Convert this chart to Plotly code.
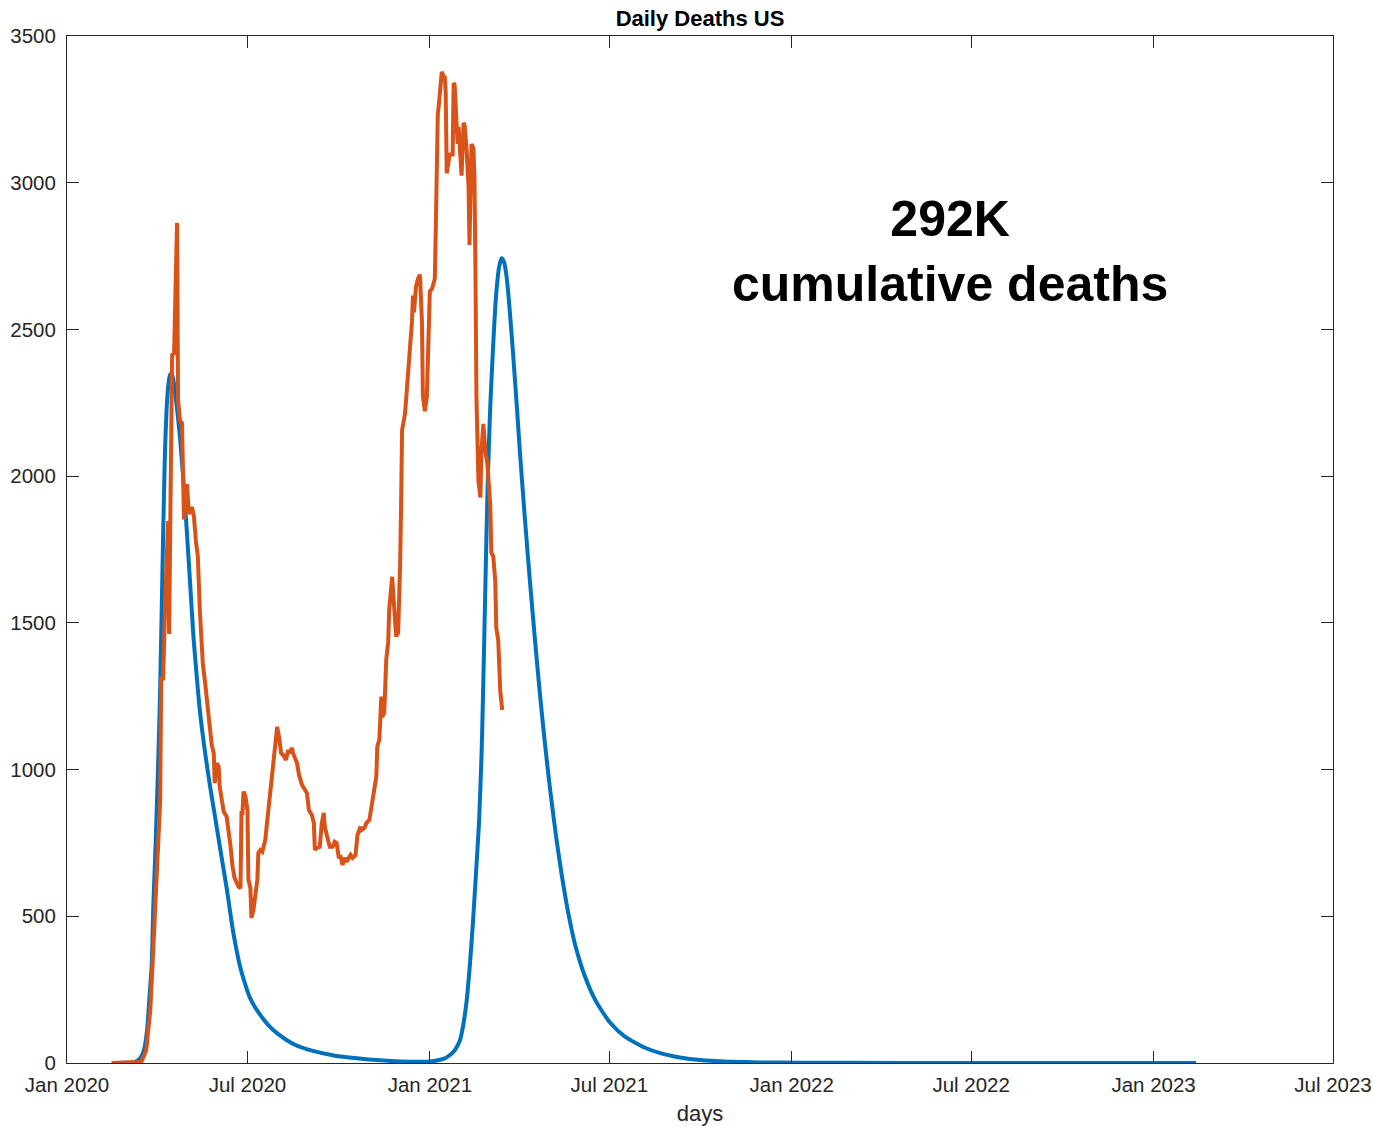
import pandas as pd
import plotly.graph_objects as go

START = "2020-01-01"

# Model curve (blue): days since 2020-01-01 (fractional) and daily deaths
model_days = [45.4, 58.5, 68.6, 73.6, 77.7, 80.7, 83.7, 85.4, 87.1, 88.8, 90.5, 92.1, 93.8,
              95.5, 97.1, 98.8, 100.5, 102.2, 103.9, 105.4, 106.9, 108.9, 111.5, 114.0,
              117.3, 120.7, 124.1, 127.4, 130.8, 134.2, 139.2, 144.2, 149.3, 154.3, 161.1,
              167.7, 174.5, 179.6, 184.6, 189.7, 194.7, 202.8, 211.8, 229.9, 247.1, 270.3,
              292.5, 315.7, 337.9, 356.1, 366.2, 376.3, 382.3, 386.3, 391.4, 396.4, 399.7,
              403.2, 406.5, 409.5, 412.6, 415.6, 418.3, 419.6, 421.1, 422.6, 424.1, 425.6,
              427.1, 428.6, 430.1, 431.7, 433.7, 435.7, 438.3, 440.8, 442.8, 444.8, 446.8,
              449.9, 453.9, 456.9, 462.0, 467.0, 472.1, 477.1, 482.2, 487.2, 493.2, 499.3,
              505.4, 512.4, 522.5, 533.6, 547.7, 562.8, 583.0, 599.2, 618.3, 638.5, 668.8,
              699.0, 739.4, 840.2, 941.1, 1138.8]
model_deaths = [0, 0.5, 4, 15, 45, 110, 250, 330, 540, 690, 860, 1040, 1250, 1540, 1820,
                2080, 2230, 2310, 2345, 2350, 2335, 2290, 2215, 2130, 1990, 1820, 1640, 1460,
                1320, 1195, 1060, 945, 840, 735, 595, 445, 330, 270, 222, 190, 165, 130, 102,
                62, 42, 25, 16, 9, 5, 4, 5, 11, 18, 27, 45, 78, 130, 215, 340, 480, 650, 820,
                1067, 1250, 1480, 1720, 1940, 2110, 2250, 2360, 2460, 2560, 2650, 2710, 2743,
                2730, 2695, 2635, 2555, 2420, 2230, 2080, 1850, 1640, 1440, 1255, 1085, 935,
                775, 635, 515, 405, 295, 210, 138, 90, 52, 33, 19, 10, 4.5, 2, 1, 0.3, 0.1, 0]

# Reported data (orange)
actual_days = [45, 60, 75, 80, 84, 87, 89, 94, 95, 97, 99, 101, 102, 103, 105, 106, 108,
               110, 111, 112, 114, 116, 117, 118, 121, 122, 123, 126, 128, 130, 132, 134,
               137, 139, 141, 143, 146, 148, 149, 151, 153, 154, 156, 158, 161, 163, 165,
               167, 169, 173, 175, 176, 177, 178, 180, 182, 183, 185, 186, 188, 190, 192,
               193, 195, 197, 200, 201, 203, 205, 208, 209, 211, 212, 214, 216, 218, 221,
               223, 224, 227, 228, 232, 234, 237, 238, 240, 242, 244, 247, 249, 250, 252,
               255, 257, 259, 260, 263, 265, 268, 270, 272, 274, 276, 278, 280, 282, 286,
               288, 291, 293, 296, 297, 300, 302, 305, 307, 310, 312, 313, 315, 316, 317,
               318, 320, 322, 324, 325, 327, 328, 330, 332, 334, 335, 336, 337, 338, 341,
               343, 344, 346, 348, 349, 350, 352, 353, 354, 356, 358, 359, 361, 363, 364,
               366, 368, 371, 372, 373, 374, 375, 377, 378, 380, 381, 382, 383, 385, 386,
               389, 390, 391, 392, 394, 395, 396, 398, 400, 401, 403, 405, 406, 408, 410,
               411, 412, 413, 415, 417, 418, 420, 422, 424, 427, 428, 430, 432, 433, 435,
               437, 439]
actual_deaths = [0, 0, 3, 44, 180, 385, 555, 896, 1310, 1310, 1566, 1847, 1847, 1462, 2345,
                 2413, 2418, 2863, 2863, 2260, 2188, 2181, 1980, 1852, 1973, 1932, 1871,
                 1895, 1864, 1779, 1725, 1542, 1360, 1305, 1237, 1190, 1084, 1056, 954, 1022,
                 1010, 942, 908, 857, 840, 771, 737, 669, 631, 601, 596, 852, 852, 925, 908,
                 862, 624, 596, 494, 521, 579, 624, 716, 726, 720, 760, 794, 862, 903, 999,
                 1067, 1112, 1146, 1107, 1056, 1050, 1033, 1067, 1056, 1074, 1056, 1022, 982,
                 948, 942, 930, 920, 862, 845, 818, 726, 733, 737, 818, 852, 805, 771, 737,
                 737, 754, 750, 703, 703, 675, 699, 686, 709, 699, 709, 777, 805, 794, 801,
                 818, 828, 869, 920, 976, 1078, 1101, 1169, 1249, 1180, 1193, 1374, 1436,
                 1544, 1602, 1657, 1555, 1453, 1466, 1544, 1697, 1900, 2157, 2214, 2300,
                 2386, 2444, 2529, 2615, 2558, 2645, 2665, 2672, 2687, 2529, 2271, 2221,
                 2271, 2414, 2630, 2637, 2672, 2846, 3061, 3233, 3262, 3347, 3378, 3361,
                 3364, 3304, 3032, 3074, 3096, 3096, 3340, 3333, 3246, 3132, 3190, 3132,
                 3024, 3204, 3197, 3117, 2989, 2788, 3132, 3117, 3016, 2703, 2271, 1984,
                 1927, 2085, 2178, 2085, 2042, 1898, 1740, 1726, 1640, 1483, 1439, 1268,
                 1203]

x_tick_dates = ["2020-01-01", "2020-07-01", "2021-01-01", "2021-07-01", "2022-01-01",
                "2022-07-01", "2023-01-01", "2023-07-01"]
x_tick_labels = ["Jan 2020", "Jul 2020", "Jan 2021", "Jul 2021", "Jan 2022",
                 "Jul 2022", "Jan 2023", "Jul 2023"]
y_ticks = [0, 500, 1000, 1500, 2000, 2500, 3000, 3500]

title_text = "Daily Deaths US"
x_label = "days"
note_text = "292K<br>cumulative deaths"

start = pd.Timestamp(START)
model_dates = start + pd.to_timedelta(model_days, unit="D")
actual_dates = start + pd.to_timedelta(actual_days, unit="D")

FONT = "Liberation Sans, Arial, Helvetica, sans-serif"
AX = "#262626"

fig = go.Figure()
fig.add_trace(go.Scatter(x=model_dates, y=model_deaths, mode="lines",
                         line=dict(color="#0072BD", width=4, shape="spline", smoothing=0.6),
                         showlegend=False))
fig.add_trace(go.Scatter(x=actual_dates, y=actual_deaths, mode="lines",
                         line=dict(color="#D95319", width=4),
                         showlegend=False))

fig.update_layout(
    width=1374, height=1126,
    margin=dict(l=67, r=41, t=36, b=63, autoexpand=False),
    paper_bgcolor="white", plot_bgcolor="white",
    font=dict(family=FONT, size=20.5, color=AX),
    title=dict(text="<b>" + title_text + "</b>", x=0.5, xref="paper", xanchor="center",
               y=1 - 18 / 1126, yref="container", yanchor="middle",
               font=dict(size=22, color="black")),
    annotations=[dict(text="<b>" + note_text + "</b>", xref="paper", yref="paper",
                      x=0.6975, y=0.7897, xanchor="center", yanchor="middle",
                      showarrow=False, align="center",
                      font=dict(size=50, color="black", family=FONT))],
)
fig.update_xaxes(type="date", range=["2020-01-01", "2023-07-01"],
                 tickvals=x_tick_dates, ticktext=x_tick_labels,
                 ticks="inside", ticklen=12, tickcolor=AX, tickwidth=1,
                 ticklabelstandoff=3,
                 showline=True, linecolor=AX, linewidth=1, mirror="ticks",
                 showgrid=False, zeroline=False,
                 title=dict(text=x_label, standoff=11, font=dict(size=22)))
fig.update_yaxes(range=[0, 3500], tickvals=y_ticks,
                 ticks="inside", ticklen=12, tickcolor=AX, tickwidth=1,
                 ticklabelstandoff=6,
                 showline=True, linecolor=AX, linewidth=1, mirror="ticks",
                 showgrid=False, zeroline=False)

fig.write_html("out.html")
